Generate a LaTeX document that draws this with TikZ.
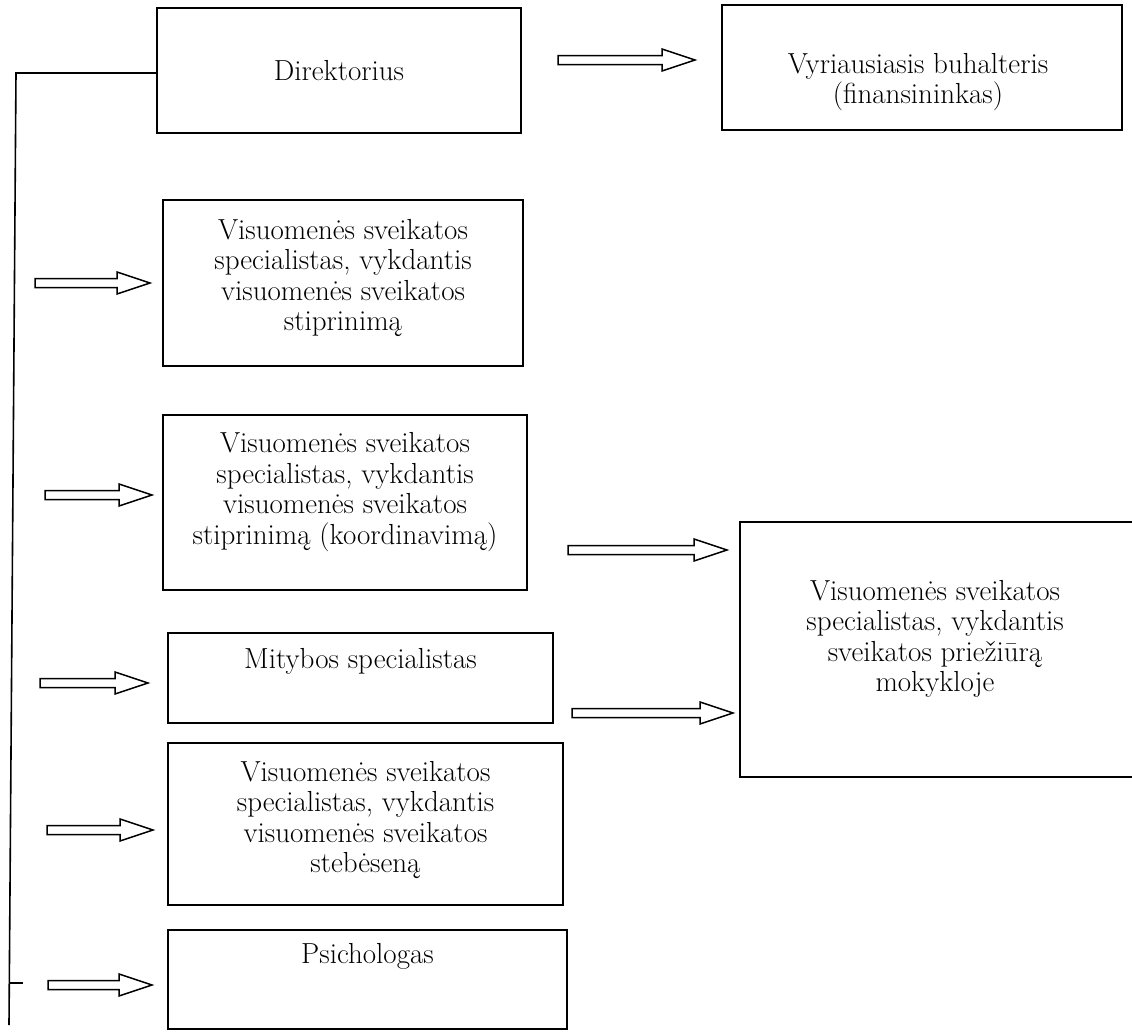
\documentclass[tikz,border=0pt]{standalone}
\usetikzlibrary{calc}
\begin{document}
\begin{tikzpicture}[x=1pt,y=-1pt,
  box/.style={draw, line width=1.9pt, rectangle, inner sep=0pt},
  txt/.style={align=center, font=\fontsize{29}{30.5}\selectfont, inner sep=0pt},
  spine/.style={line width=1.6pt},
  barrow/.style={line width=1.5pt, line join=miter,
    to path={let \p1=(\tikztostart), \p2=(\tikztotarget) in
      (\x1,\y1+4.5pt) -- (\x2-33pt,\y1+4.5pt) -- (\x2-33pt,\y1+11pt) -- (\x2,\y1)
      -- (\x2-33pt,\y1-11pt) -- (\x2-33pt,\y1-4.5pt) -- (\x1,\y1-4.5pt) -- cycle}}
]
\useasboundingbox (0,0) rectangle (1132,1031);

% boxes
\node[box, minimum width=364pt, minimum height=125pt] (dir) at (339,70.5) {};
\node[box, minimum width=400pt, minimum height=125pt] (vyr) at (922,67.5) {};
\node[box, minimum width=360pt, minimum height=166pt] (stip) at (343,283) {};
\node[box, minimum width=364pt, minimum height=175pt] (koord) at (345,502.5) {};
\node[box, minimum width=405pt, minimum height=255pt] (mok) at (942.5,649.5) {};
\node[box, minimum width=385pt, minimum height=90pt] (mit) at (360.5,678) {};
\node[box, minimum width=395pt, minimum height=162pt] (steb) at (365.5,824) {};
\node[box, minimum width=399pt, minimum height=99pt] (psi) at (367.5,979.5) {};

% texts
\node[txt] (dirT) at (339,71) {Direktorius};
\node[txt] (vyrT) at (918,82) {Vyriausiasis buhalteris\\(finansininkas)};
\node[txt] (stipT) at (343,278) {Visuomenės sveikatos\\specialistas, vykdantis\\visuomenės sveikatos\\stiprinimą};
\node[txt] (koordT) at (345,492) {Visuomenės sveikatos\\specialistas, vykdantis\\visuomenės sveikatos\\stiprinimą (koordinavimą)};
\node[txt] (mokT) at (935,639) {Visuomenės sveikatos\\specialistas, vykdantis\\sveikatos priežiūrą\\mokykloje};
\node[txt] (mitT) at (360.5,661) {Mitybos specialistas};
\node[txt] (stebT) at (365.5,820) {Visuomenės sveikatos\\specialistas, vykdantis\\visuomenės sveikatos\\stebėseną};
\node[txt] (psiT) at (367.5,956) {Psichologas};

% spine
\coordinate (spineTop) at (16,73);
\coordinate (spineBot) at (9,1025);
\coordinate (tickEnd) at (23,983);
\draw[spine] (dir.west |- spineTop) -- (spineTop) -- (spineBot);
\draw[spine] (9.4,983) -- (tickEnd);

% arrow end points
\coordinate (a0s) at (558,60);  \coordinate (a0e) at (695,60);
\coordinate (a1s) at (35,283);  \coordinate (a1e) at (150,283);
\coordinate (a2s) at (45,495);  \coordinate (a2e) at (152,495);
\coordinate (a3s) at (568,550); \coordinate (a3e) at (727,550);
\coordinate (a4s) at (40,683);  \coordinate (a4e) at (148,683);
\coordinate (a5s) at (572,713); \coordinate (a5e) at (733,713);
\coordinate (a6s) at (47,830);  \coordinate (a6e) at (153,830);
\coordinate (a7s) at (48,985);  \coordinate (a7e) at (152,985);

\foreach \i in {0,...,7} {\draw[barrow] (a\i s) to (a\i e);}
\end{tikzpicture}
\end{document}
